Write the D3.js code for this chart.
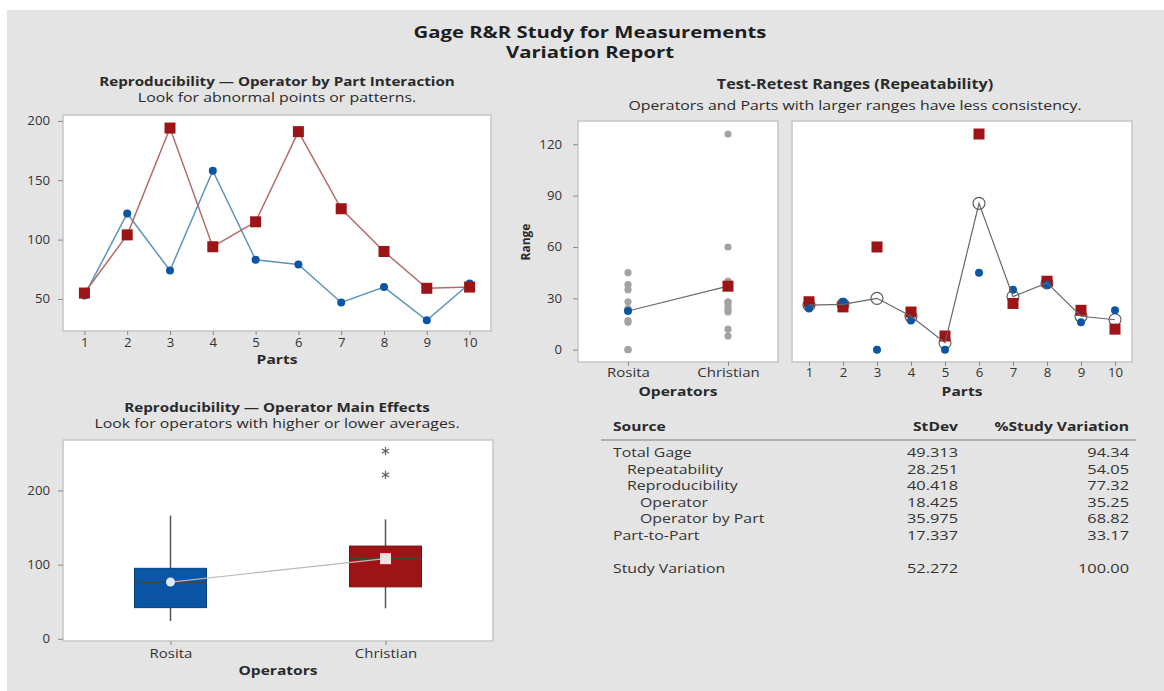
<!DOCTYPE html>
<html><head><meta charset="utf-8">
<script src="https://cdn.jsdelivr.net/npm/d3@7"></script>
<style>body{margin:0;background:#fff} text{font-family:"Open Sans",sans-serif}</style>
</head><body><svg id="c" width="1164" height="691"></svg>
<script>
// ---------- data ----------
const parts = ["1","2","3","4","5","6","7","8","9","10"];
const operators = ["Rosita","Christian"];
// Operator by part averages
const avgRosita    = [53, 122, 74, 158, 83, 79, 47, 60, 32, 63];
const avgChristian = [55, 104, 194, 94, 115, 191, 126, 90, 59, 60];
// Operator main effects boxplot stats (Rosita, Christian)
const boxWhiskerLow  = [24, 41];
const boxQ1          = [42, 70];
const boxMedian      = [76, 108];
const boxQ3          = [95, 125];
const boxWhiskerHigh = [166, 161];
const boxMean        = [76.5, 108];
const outliersChristian = [221, 253];
// Test-retest ranges per part
const rangeRosita    = [24, 28, 0, 17, 0, 45, 35, 38, 16, 23];
const rangeChristian = [28, 25, 60, 22, 8, 126, 27, 40, 23, 12];
// tick values
const ticksInteraction = [50, 100, 150, 200];
const ticksBox = [0, 100, 200];
const ticksRange = [0, 30, 60, 90, 120];
// table
const tableSource = ["Total Gage","Repeatability","Reproducibility","Operator","Operator by Part","Part-to-Part","Study Variation"];
const tableLevel  = [0, 1, 1, 2, 2, 0, 0];
const tableStDev  = [49.313, 28.251, 40.418, 18.425, 35.975, 17.337, 52.272];
const tableStudyVar = [94.34, 54.05, 77.32, 35.25, 68.82, 33.17, 100.00];

// ---------- style ----------
const BLUE = "#0b55a5", RED = "#9d1416";
const svg = d3.select("#c");
svg.append("rect").attr("x",7).attr("y",10).attr("width",1157).attr("height",681).attr("fill","#e4e4e4");

function text(x,y,s,opt={}){
  const sx = opt.sx || 1.2;
  return svg.append("text").attr("transform",`translate(${x},${y}) scale(${sx},1)`).text(s)
    .attr("text-anchor",opt.anchor||"middle")
    .attr("font-size",opt.size||13)
    .attr("font-weight",opt.bold?700:400)
    .attr("fill",opt.fill||"#2a2a2a");
}
function panel(x0,y0,x1,y1){
  svg.append("rect").attr("x",x0).attr("y",y0).attr("width",x1-x0).attr("height",y1-y0)
    .attr("fill","#fff").attr("stroke","#c6c6c6").attr("stroke-width",1.5);
}
function styleAxis(sx,size){
  return g=>{
    g.select(".domain").remove();
    g.selectAll(".tick line").attr("stroke","#8a8a8a");
    g.selectAll(".tick text").attr("font-size",size).attr("fill","#333").attr("font-family","'Open Sans',sans-serif")
      .each(function(){
        const t=d3.select(this);
        const x=+t.attr("x")||0, y=+t.attr("y")||0;
        t.attr("x",null).attr("y",null).attr("transform",`translate(${x},${y}) scale(${sx},1)`);
      });
  };
}

// ---------- titles ----------
text(590,37.5,"Gage R&R Study for Measurements",{bold:true,size:15.5,fill:"#1e1e1e",sx:1.31});
text(590,57.5,"Variation Report",{bold:true,size:15.5,fill:"#1e1e1e",sx:1.31});

// ---------- Panel 1: interaction ----------
{
  const X0=63,X1=491,Y0=115,Y1=331;
  text(277,86,"Reproducibility \u2014 Operator by Part Interaction",{bold:true,size:13,sx:1.17});
  text(277,102,"Look for abnormal points or patterns.",{size:13,sx:1.22});
  panel(X0,Y0,X1,Y1);
  const x=d3.scalePoint().domain(parts).range([X0,X1]).padding(0.5);
  const y=d3.scaleLinear().domain([23,205]).range([Y1,Y0]);
  svg.append("g").attr("transform",`translate(${X0},0)`).call(d3.axisLeft(y).tickValues(ticksInteraction).tickSize(5).tickPadding(8)).call(styleAxis(1.1,12));
  svg.append("g").attr("transform",`translate(0,${Y1})`).call(d3.axisBottom(x).tickSize(4).tickPadding(3)).call(styleAxis(1.1,12));
  text((X0+X1)/2,364,"Parts",{bold:true,size:13});
  const line=d3.line().x((d,i)=>x(parts[i])).y(d=>y(d));
  svg.append("path").attr("d",line(avgRosita)).attr("fill","none").attr("stroke","#5b94bd").attr("stroke-width",1.5);
  svg.append("path").attr("d",line(avgChristian)).attr("fill","none").attr("stroke","#b56a6a").attr("stroke-width",1.5);
  svg.selectAll(null).data(avgRosita).enter().append("circle")
    .attr("cx",(d,i)=>x(parts[i])).attr("cy",d=>y(d)).attr("r",4).attr("fill",BLUE);
  svg.selectAll(null).data(avgChristian).enter().append("rect")
    .attr("x",(d,i)=>x(parts[i])-5.5).attr("y",d=>y(d)-5.5).attr("width",11).attr("height",11).attr("fill",RED);
}

// ---------- Panel 2: main effects boxplot ----------
{
  const X0=63,X1=493,Y0=440,Y1=641;
  text(277,412,"Reproducibility \u2014 Operator Main Effects",{bold:true,size:13,sx:1.17});
  text(277,428,"Look for operators with higher or lower averages.",{size:13,sx:1.22});
  panel(X0,Y0,X1,Y1);
  const x=d3.scalePoint().domain(operators).range([X0,X1]).padding(0.5);
  const y=d3.scaleLinear().domain([-3,268]).range([Y1,Y0]);
  svg.append("g").attr("transform",`translate(${X0},0)`).call(d3.axisLeft(y).tickValues(ticksBox).tickSize(5).tickPadding(8)).call(styleAxis(1.1,12));
  svg.append("g").attr("transform",`translate(0,${Y1})`).call(d3.axisBottom(x).tickSize(4).tickPadding(4)).call(styleAxis(1.25,12));
  text((X0+X1)/2,675,"Operators",{bold:true,size:13});
  const bw=72, fills=[BLUE,RED];
  operators.forEach((op,i)=>{
    const cx=x(op);
    svg.append("line").attr("x1",cx).attr("x2",cx).attr("y1",y(boxWhiskerLow[i])).attr("y2",y(boxWhiskerHigh[i]))
      .attr("stroke","#555").attr("stroke-width",1.5);
    svg.append("rect").attr("x",cx-bw/2).attr("y",y(boxQ3[i])).attr("width",bw).attr("height",y(boxQ1[i])-y(boxQ3[i]))
      .attr("fill",fills[i]).attr("stroke",i?"#7a0e10":"#06407f").attr("stroke-width",1);
    svg.append("line").attr("x1",cx-bw/2).attr("x2",cx+bw/2).attr("y1",y(boxMedian[i])).attr("y2",y(boxMedian[i]))
      .attr("stroke","#444").attr("stroke-width",1.2);
  });
  svg.append("path").attr("d",d3.line().x((d,i)=>x(operators[i])).y(d=>y(d))(boxMean))
    .attr("fill","none").attr("stroke","#b8b8b8").attr("stroke-width",1.2);
  svg.append("circle").attr("cx",x(operators[0])).attr("cy",y(boxMean[0])).attr("r",4.5).attr("fill","#dbe8f5");
  svg.append("rect").attr("x",x(operators[1])-5.5).attr("y",y(boxMean[1])-5.5).attr("width",11).attr("height",11).attr("fill","#f6dede");
  svg.selectAll(null).data(outliersChristian).enter().append("path")
    .attr("transform",d=>`translate(${x(operators[1])},${y(d)})`)
    .attr("d",d3.symbol(d3.symbolAsterisk,50)).attr("fill","none").attr("stroke","#666").attr("stroke-width",1.3);
}

// ---------- Panel 3 & 4: test-retest ranges ----------
{
  const Y0=121,Y1=362;
  text(855,89,"Test-Retest Ranges (Repeatability)",{bold:true,size:13.5,sx:1.2});
  text(855,110,"Operators and Parts with larger ranges have less consistency.",{size:13,sx:1.22});
  const y=d3.scaleLinear().domain([-7.2,133.6]).range([Y1,Y0]);
  // left: by operator
  const L0=578,L1=778;
  panel(L0,Y0,L1,Y1);
  const xo=d3.scalePoint().domain(operators).range([L0,L1]).padding(0.5);
  svg.append("g").attr("transform",`translate(${L0},0)`).call(d3.axisLeft(y).tickValues(ticksRange).tickSize(5).tickPadding(11)).call(styleAxis(1.1,12));
  svg.append("g").attr("transform",`translate(0,${Y1})`).call(d3.axisBottom(xo).tickSize(4).tickPadding(2)).call(styleAxis(1.25,12));
  text((L0+L1)/2,396,"Operators",{bold:true,size:13});
  svg.append("text").attr("transform",`translate(530,242) rotate(-90)`).attr("text-anchor","middle")
    .attr("font-size",12).attr("font-weight",700).attr("fill","#2a2a2a").text("Range");
  const allRanges=[rangeRosita,rangeChristian];
  allRanges.forEach((arr,i)=>{
    svg.selectAll(null).data(arr).enter().append("circle")
      .attr("cx",xo(operators[i])).attr("cy",d=>y(d)).attr("r",3.6).attr("fill","#a3a3a3");
  });
  const means=allRanges.map(a=>d3.mean(a));
  svg.append("path").attr("d",d3.line().x((d,i)=>xo(operators[i])).y(d=>y(d))(means))
    .attr("fill","none").attr("stroke","#666").attr("stroke-width",1.2);
  svg.append("circle").attr("cx",xo(operators[0])).attr("cy",y(means[0])).attr("r",4).attr("fill",BLUE);
  svg.append("rect").attr("x",xo(operators[1])-5.5).attr("y",y(means[1])-5.5).attr("width",11).attr("height",11).attr("fill",RED);

  // right: by part
  const R0=792,R1=1132;
  panel(R0,Y0,R1,Y1);
  const xp=d3.scalePoint().domain(parts).range([R0,R1]).padding(0.5);
  svg.append("g").attr("transform",`translate(0,${Y1})`).call(d3.axisBottom(xp).tickSize(4).tickPadding(2)).call(styleAxis(1.1,12));
  text((R0+R1)/2,396,"Parts",{bold:true,size:13});
  const partMeans=parts.map((p,i)=>(rangeRosita[i]+rangeChristian[i])/2);
  svg.selectAll(null).data(partMeans).enter().append("circle")
    .attr("cx",(d,i)=>xp(parts[i])).attr("cy",d=>y(d)).attr("r",6).attr("fill","#fff").attr("stroke","#555").attr("stroke-width",1.1);
  svg.selectAll(null).data(rangeChristian).enter().append("rect")
    .attr("x",(d,i)=>xp(parts[i])-5.5).attr("y",d=>y(d)-5.5).attr("width",11).attr("height",11).attr("fill",RED);
  svg.selectAll(null).data(rangeRosita).enter().append("circle")
    .attr("cx",(d,i)=>xp(parts[i])).attr("cy",d=>y(d)).attr("r",4).attr("fill",BLUE);
  svg.append("path").attr("d",d3.line().x((d,i)=>xp(parts[i])).y(d=>y(d))(partMeans))
    .attr("fill","none").attr("stroke","#666").attr("stroke-width",1.2);
}

// ---------- Table ----------
{
  const xSrc=613, xSd=958, xPct=1129, indent=[0,14,27];
  text(xSrc,431,"Source",{anchor:"start",bold:true,size:13});
  text(xSd,431,"StDev",{anchor:"end",bold:true,size:13});
  text(xPct,431,"%Study Variation",{anchor:"end",bold:true,size:13});
  svg.append("line").attr("x1",601).attr("x2",1136).attr("y1",440).attr("y2",440).attr("stroke","#b0b0b0").attr("stroke-width",2);
  const f3=d3.format(".3f"), f2=d3.format(".2f");
  tableSource.forEach((s,i)=>{
    const yy=457+i*16.6+(i===tableSource.length-1?16.6:0);
    text(xSrc+indent[tableLevel[i]],yy,s,{anchor:"start",size:13,fill:"#333",sx:1.22});
    text(xSd,yy,f3(tableStDev[i]),{anchor:"end",size:13,fill:"#333",sx:1.26});
    text(xPct,yy,f2(tableStudyVar[i]),{anchor:"end",size:13,fill:"#333",sx:1.26});
  });
}
</script></body></html>
